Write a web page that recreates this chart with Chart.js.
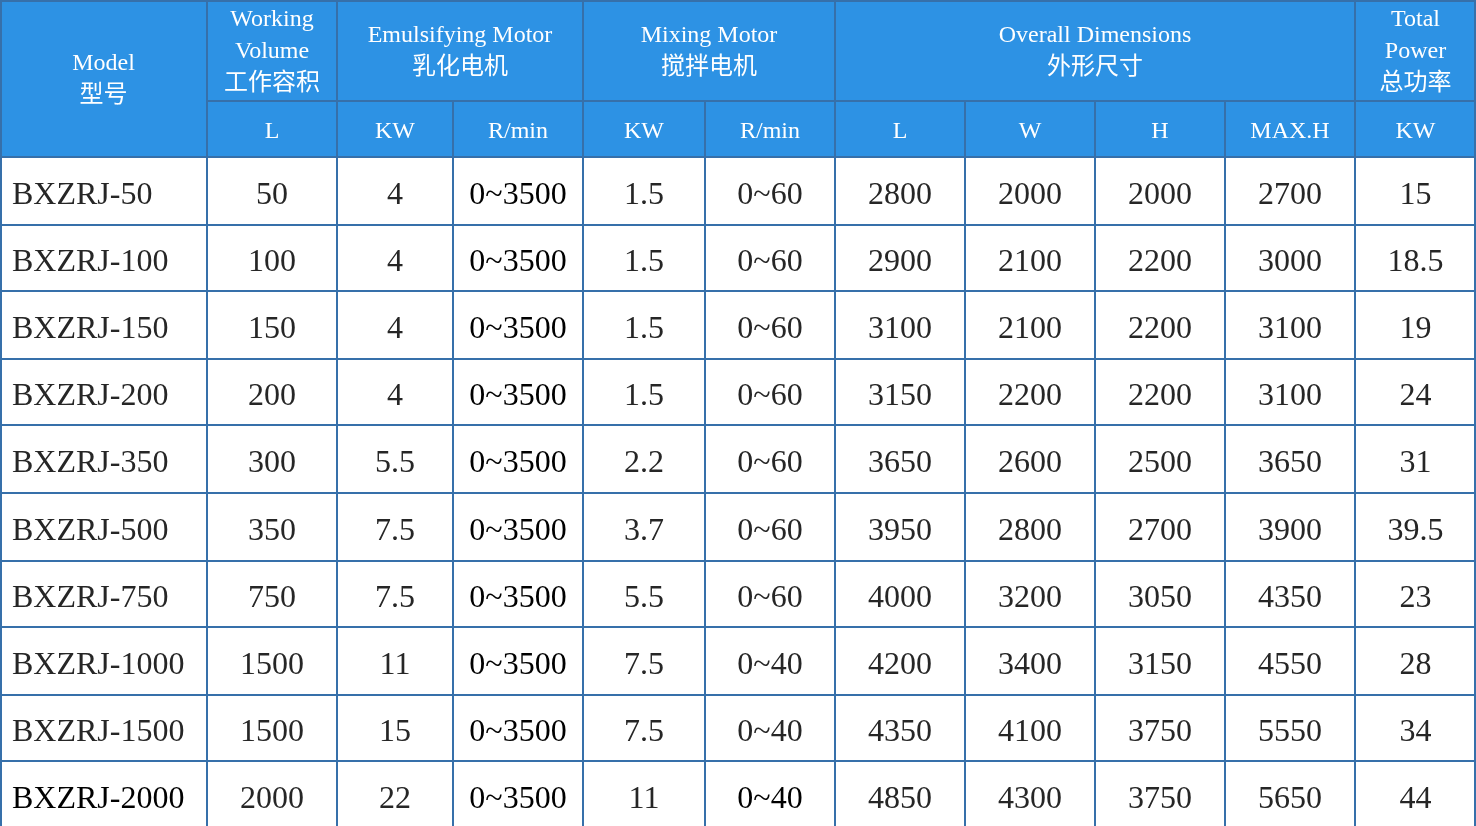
<!DOCTYPE html>
<html>
<head>
<meta charset="utf-8">
<script src="https://cdn.jsdelivr.net/npm/chart.js@4.4.1/dist/chart.umd.min.js"></script>
<style>
html,body{margin:0;padding:0;background:#fff;overflow:hidden}
#wrap{width:1476px;height:826px;position:relative}
</style>
</head>
<body>
<div id="wrap"><canvas id="c"></canvas></div>
<script>
// ---- Data ----
const models = ["BXZRJ-50","BXZRJ-100","BXZRJ-150","BXZRJ-200","BXZRJ-350","BXZRJ-500","BXZRJ-750","BXZRJ-1000","BXZRJ-1500","BXZRJ-2000"];
const workingVolume = ["50","100","150","200","300","350","750","1500","1500","2000"];
const emulKW = ["4","4","4","4","5.5","7.5","7.5","11","15","22"];
const emulRPM = ["0~3500","0~3500","0~3500","0~3500","0~3500","0~3500","0~3500","0~3500","0~3500","0~3500"];
const mixKW = ["1.5","1.5","1.5","1.5","2.2","3.7","5.5","7.5","7.5","11"];
const mixRPM = ["0~60","0~60","0~60","0~60","0~60","0~60","0~60","0~40","0~40","0~40"];
const dimL = ["2800","2900","3100","3150","3650","3950","4000","4200","4350","4850"];
const dimW = ["2000","2100","2100","2200","2600","2800","3200","3400","4100","4300"];
const dimH = ["2000","2200","2200","2200","2500","2700","3050","3150","3750","3750"];
const dimMaxH = ["2700","3000","3100","3100","3650","3900","4350","4550","5550","5650"];
const totalKW = ["15","18.5","19","24","31","39.5","23","28","34","44"];

// header labels
const topHeaders = [
  {c0:0, c1:1, rows:2, lines:["Model","型号"]},
  {c0:1, c1:2, rows:1, lines:["Working","Volume","工作容积"]},
  {c0:2, c1:4, rows:1, lines:["Emulsifying Motor","乳化电机"]},
  {c0:4, c1:6, rows:1, lines:["Mixing Motor","搅拌电机"]},
  {c0:6, c1:10, rows:1, lines:["Overall Dimensions","外形尺寸"]},
  {c0:10, c1:11, rows:1, lines:["Total","Power","总功率"]}
];
const subHeaders = ["L","KW","R/min","KW","R/min","L","W","H","MAX.H","KW"];

// ---- Layout (scale units) ----
const colEdges = [0,207,337,453,583,705,835,965,1095,1225,1355,1476];
const headEdges = [0,101,157];
const rowEdges = [157,225,291,359,425,493,561,627,695,761,829];

const columns = [models, workingVolume, emulKW, emulRPM, mixKW, mixRPM, dimL, dimW, dimH, dimMaxH, totalKW];

const HEADER_BG = '#2d92e4';
const LINE = '#3670aa';
const FONT = "'Liberation Serif', 'Noto Sans CJK SC', serif";

const tablePlugin = {
  id: 'tablePlugin',
  afterDraw(chart) {
    const ctx = chart.ctx;
    const xs = chart.scales.x, ys = chart.scales.y;
    const X = v => xs.getPixelForValue(v);
    const Y = v => ys.getPixelForValue(v);
    ctx.save();
    // backgrounds
    ctx.fillStyle = '#ffffff';
    ctx.fillRect(X(0), Y(0), X(1476) - X(0), Y(826) - Y(0));
    ctx.fillStyle = HEADER_BG;
    ctx.fillRect(X(0), Y(headEdges[0]), X(1476) - X(0), Y(headEdges[2]) - Y(headEdges[0]));

    // header text
    ctx.fillStyle = '#ffffff';
    ctx.font = '24px ' + FONT;
    ctx.textAlign = 'center';
    ctx.textBaseline = 'middle';
    const lh = 32;
    topHeaders.forEach(h => {
      const cx = (X(colEdges[h.c0]) + X(colEdges[h.c1])) / 2;
      const cy = (Y(headEdges[0]) + Y(headEdges[h.rows])) / 2 + 1.5;
      const n = h.lines.length;
      h.lines.forEach((t, i) => {
        ctx.fillText(t, cx, cy + (i - (n - 1) / 2) * lh);
      });
    });
    subHeaders.forEach((t, i) => {
      const cx = (X(colEdges[i + 1]) + X(colEdges[i + 2])) / 2;
      const cy = (Y(headEdges[1]) + Y(headEdges[2])) / 2 + 3;
      ctx.fillText(t, cx, cy);
    });

    // body text
    ctx.font = '32px ' + FONT;
    columns.forEach((col, ci) => {
      col.forEach((t, ri) => {
        const cy = (Y(rowEdges[ri]) + Y(rowEdges[ri + 1])) / 2 + 4.5;
        let color = '#262626';
        if (ci === 3) color = '#000000';
        if (ri === col.length - 1 && (ci === 0 || ci === 5)) color = '#000000';
        ctx.fillStyle = color;
        if (ci === 0) {
          ctx.textAlign = 'left';
          ctx.fillText(t, X(colEdges[0]) + 12, cy);
        } else {
          ctx.textAlign = 'center';
          ctx.fillText(t, (X(colEdges[ci]) + X(colEdges[ci + 1])) / 2, cy);
        }
      });
    });

    // grid lines
    ctx.strokeStyle = LINE;
    ctx.lineWidth = 2;
    const hline = (y, x0, x1) => { ctx.beginPath(); ctx.moveTo(X(x0), Y(y)); ctx.lineTo(X(x1), Y(y)); ctx.stroke(); };
    const vline = (x, y0, y1) => { ctx.beginPath(); ctx.moveTo(X(x), Y(y0)); ctx.lineTo(X(x), Y(y1)); ctx.stroke(); };
    // outer
    hline(1, 0, 1476);
    vline(1, 0, 829);
    vline(1475, 0, 829);
    // header middle line (Model spans both header rows)
    hline(headEdges[1], colEdges[1], 1476);
    // row lines
    rowEdges.forEach(y => hline(y, 0, 1476));
    // verticals
    const fullCols = [1, 2, 4, 6, 10];
    colEdges.forEach((x, i) => {
      if (i === 0 || i === colEdges.length - 1) return;
      if (fullCols.includes(i)) vline(x, 0, 829);
      else vline(x, headEdges[1], 829);
    });
    ctx.restore();
  }
};

new Chart(document.getElementById('c'), {
  type: 'scatter',
  data: { datasets: [{ data: [] }] },
  options: {
    responsive: true,
    maintainAspectRatio: false,
    animation: false,
    layout: { padding: 0 },
    plugins: { legend: { display: false }, tooltip: { enabled: false } },
    scales: {
      x: { type: 'linear', min: 0, max: 1476, display: false },
      y: { type: 'linear', min: 0, max: 826, reverse: true, display: false }
    }
  },
  plugins: [tablePlugin]
});
</script>
</body>
</html>
